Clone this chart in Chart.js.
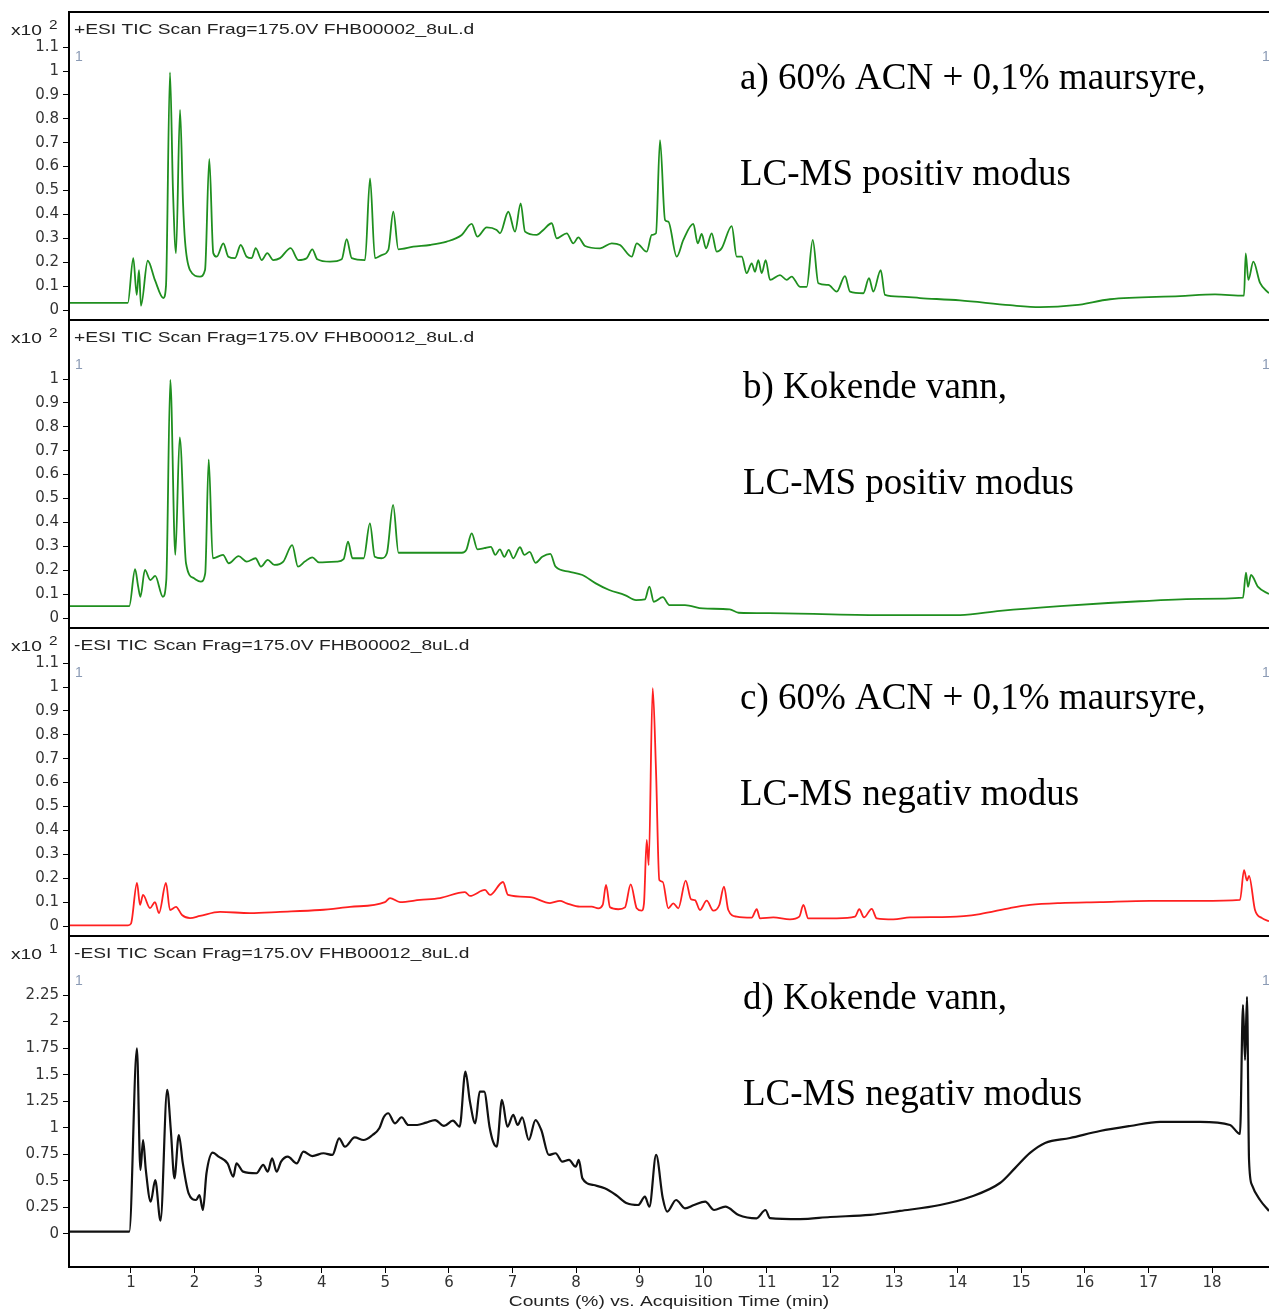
<!DOCTYPE html>
<html>
<head>
<meta charset="utf-8">
<script src="https://cdn.jsdelivr.net/npm/chart.js@4.4.1/dist/chart.umd.min.js"></script>
<style>
  html, body { margin: 0; padding: 0; background: #fff; }
  #wrap { position: relative; width: 1269px; height: 1311px; overflow: hidden; }
  canvas { position: absolute; left: 0; }
</style>
</head>
<body>
<div id="wrap">
  <canvas id="chartA" width="1269" height="320" style="top:0px"></canvas>
  <canvas id="chartB" width="1269" height="308" style="top:320px"></canvas>
  <canvas id="chartC" width="1269" height="308" style="top:628px"></canvas>
  <canvas id="chartD" width="1269" height="375" style="top:936px"></canvas>
</div>
<script>
// acquisition time (min) and counts for each trace
const timesA = [0.03, 0.51, 0.95, 1.036, 1.09, 1.126, 1.157, 1.263, 1.377, 1.508, 1.55, 1.613, 1.66, 1.708, 1.771, 1.818, 1.849, 1.928, 2.085, 2.164, 2.231, 2.294, 2.348, 2.452, 2.53, 2.636, 2.725, 2.819, 2.898, 2.961, 3.055, 3.143, 3.238, 3.343, 3.511, 3.631, 3.763, 3.851, 3.93, 4.13, 4.313, 4.392, 4.471, 4.68, 4.759, 4.837, 4.943, 5.046, 5.125, 5.204, 5.439, 5.702, 5.965, 6.201, 6.358, 6.446, 6.594, 6.751, 6.803, 6.934, 7.039, 7.128, 7.196, 7.38, 7.484, 7.616, 7.695, 7.852, 7.956, 8.034, 8.14, 8.376, 8.56, 8.69, 8.874, 8.953, 9.11, 9.189, 9.256, 9.319, 9.398, 9.45, 9.582, 9.686, 9.843, 9.912, 9.975, 10.042, 10.132, 10.211, 10.289, 10.447, 10.525, 10.604, 10.682, 10.761, 10.813, 10.865, 10.918, 10.981, 11.049, 11.206, 11.312, 11.39, 11.521, 11.626, 11.721, 11.809, 11.966, 12.098, 12.228, 12.307, 12.516, 12.606, 12.673, 12.79, 12.857, 13.093, 13.408, 14.037, 14.823, 15.295, 15.845, 16.396, 17.497, 18.047, 18.503, 18.53, 18.571, 18.65, 18.755, 18.896];
const countsA = [0.03, 0.03, 0.03, 0.217, 0.063, 0.167, 0.018, 0.206, 0.125, 0.05, 0.1, 0.994, 0.5, 0.238, 0.837, 0.45, 0.29, 0.167, 0.14, 0.167, 0.632, 0.238, 0.223, 0.279, 0.223, 0.217, 0.272, 0.223, 0.217, 0.259, 0.209, 0.238, 0.209, 0.217, 0.259, 0.209, 0.217, 0.254, 0.212, 0.202, 0.212, 0.296, 0.217, 0.209, 0.551, 0.217, 0.23, 0.251, 0.411, 0.254, 0.265, 0.272, 0.286, 0.314, 0.36, 0.307, 0.346, 0.335, 0.321, 0.411, 0.328, 0.446, 0.328, 0.314, 0.335, 0.363, 0.3, 0.321, 0.279, 0.304, 0.268, 0.258, 0.279, 0.272, 0.223, 0.279, 0.244, 0.314, 0.321, 0.711, 0.377, 0.37, 0.223, 0.293, 0.36, 0.279, 0.318, 0.258, 0.321, 0.244, 0.258, 0.351, 0.223, 0.223, 0.154, 0.195, 0.16, 0.209, 0.154, 0.209, 0.126, 0.146, 0.126, 0.14, 0.097, 0.097, 0.293, 0.112, 0.105, 0.077, 0.142, 0.077, 0.07, 0.133, 0.077, 0.167, 0.063, 0.056, 0.05, 0.04, 0.02, 0.012, 0.02, 0.045, 0.058, 0.065, 0.06, 0.237, 0.126, 0.202, 0.113, 0.07];

const timesB = [0.03, 0.5, 0.973, 1.064, 1.113, 1.148, 1.219, 1.304, 1.381, 1.5, 1.555, 1.618, 1.697, 1.766, 1.865, 1.991, 2.096, 2.167, 2.222, 2.286, 2.447, 2.538, 2.692, 2.819, 2.959, 3.044, 3.15, 3.255, 3.395, 3.535, 3.626, 3.732, 3.851, 3.956, 4.238, 4.343, 4.413, 4.483, 4.658, 4.757, 4.834, 4.939, 5.024, 5.122, 5.207, 5.501, 5.852, 6.204, 6.273, 6.358, 6.449, 6.554, 6.66, 6.729, 6.8, 6.871, 6.94, 7.011, 7.116, 7.187, 7.27, 7.361, 7.467, 7.594, 7.677, 7.888, 8.099, 8.309, 8.52, 8.766, 8.942, 9.082, 9.152, 9.222, 9.363, 9.467, 9.712, 9.994, 10.415, 10.555, 11.033, 12.779, 14.037, 14.666, 15.61, 16.868, 17.812, 18.487, 18.534, 18.566, 18.613, 18.724, 18.896];
const countsB = [0.05, 0.05, 0.05, 0.204, 0.131, 0.089, 0.201, 0.159, 0.176, 0.089, 0.159, 0.996, 0.264, 0.756, 0.229, 0.166, 0.152, 0.187, 0.664, 0.25, 0.264, 0.229, 0.259, 0.236, 0.25, 0.215, 0.243, 0.222, 0.236, 0.305, 0.215, 0.236, 0.254, 0.233, 0.236, 0.246, 0.319, 0.25, 0.25, 0.396, 0.256, 0.25, 0.271, 0.473, 0.273, 0.273, 0.273, 0.273, 0.285, 0.354, 0.287, 0.292, 0.298, 0.264, 0.287, 0.256, 0.285, 0.25, 0.296, 0.264, 0.277, 0.231, 0.256, 0.268, 0.215, 0.194, 0.18, 0.145, 0.117, 0.096, 0.075, 0.078, 0.131, 0.068, 0.087, 0.054, 0.054, 0.04, 0.036, 0.022, 0.02, 0.012, 0.012, 0.03, 0.05, 0.07, 0.08, 0.085, 0.19, 0.13, 0.18, 0.13, 0.1];

const timesC = [0.03, 0.953, 1.0, 1.094, 1.142, 1.189, 1.299, 1.377, 1.44, 1.55, 1.613, 1.708, 1.802, 1.928, 2.085, 2.4, 2.871, 3.343, 3.972, 4.444, 4.994, 5.073, 5.23, 5.545, 5.859, 6.252, 6.331, 6.567, 6.646, 6.85, 6.929, 7.275, 7.589, 7.746, 7.852, 8.061, 8.245, 8.349, 8.418, 8.47, 8.533, 8.663, 8.769, 8.858, 8.953, 9.031, 9.067, 9.11, 9.141, 9.204, 9.256, 9.308, 9.361, 9.45, 9.528, 9.607, 9.723, 9.806, 9.869, 9.948, 10.053, 10.157, 10.252, 10.325, 10.393, 10.525, 10.761, 10.84, 10.892, 11.101, 11.363, 11.51, 11.573, 11.651, 12.098, 12.386, 12.453, 12.527, 12.648, 12.727, 12.988, 13.251, 13.879, 14.351, 14.823, 15.138, 15.61, 16.238, 17.025, 17.812, 18.44, 18.503, 18.55, 18.582, 18.676, 18.787, 18.896];
const countsC = [0.003, 0.003, 0.01, 0.18, 0.088, 0.13, 0.075, 0.1, 0.054, 0.18, 0.067, 0.08, 0.046, 0.033, 0.042, 0.059, 0.054, 0.059, 0.067, 0.08, 0.1, 0.117, 0.1, 0.109, 0.117, 0.142, 0.126, 0.151, 0.13, 0.184, 0.13, 0.121, 0.096, 0.105, 0.095, 0.081, 0.081, 0.074, 0.088, 0.172, 0.078, 0.07, 0.078, 0.174, 0.074, 0.064, 0.095, 0.36, 0.255, 0.995, 0.653, 0.192, 0.185, 0.074, 0.095, 0.074, 0.19, 0.112, 0.108, 0.067, 0.106, 0.064, 0.088, 0.165, 0.067, 0.039, 0.035, 0.07, 0.032, 0.036, 0.028, 0.039, 0.088, 0.032, 0.032, 0.039, 0.07, 0.036, 0.072, 0.032, 0.028, 0.036, 0.038, 0.05, 0.075, 0.088, 0.096, 0.1, 0.105, 0.105, 0.109, 0.234, 0.19, 0.21, 0.067, 0.033, 0.02];

const timesD = [0.03, 0.5, 0.973, 1.093, 1.148, 1.19, 1.233, 1.31, 1.381, 1.464, 1.569, 1.626, 1.683, 1.752, 1.815, 1.906, 2.025, 2.076, 2.131, 2.187, 2.286, 2.378, 2.518, 2.609, 2.658, 2.763, 2.974, 3.079, 3.15, 3.219, 3.29, 3.36, 3.466, 3.606, 3.711, 3.851, 4.027, 4.167, 4.273, 4.364, 4.518, 4.658, 4.799, 4.905, 4.974, 5.045, 5.15, 5.255, 5.361, 5.501, 5.641, 5.782, 5.922, 6.062, 6.168, 6.259, 6.33, 6.414, 6.484, 6.554, 6.638, 6.694, 6.751, 6.834, 6.919, 7.011, 7.081, 7.151, 7.256, 7.361, 7.452, 7.572, 7.677, 7.783, 7.888, 7.993, 8.042, 8.099, 8.275, 8.449, 8.626, 8.8, 8.976, 9.082, 9.152, 9.258, 9.363, 9.432, 9.572, 9.712, 9.854, 10.03, 10.17, 10.346, 10.555, 10.837, 10.977, 11.049, 11.521, 11.993, 12.622, 13.093, 13.722, 14.194, 14.666, 14.902, 15.138, 15.374, 15.767, 16.238, 16.71, 17.182, 17.812, 18.283, 18.44, 18.487, 18.519, 18.55, 18.582, 18.629, 18.755, 18.896];
const countsD = [0.022, 0.022, 0.022, 1.748, 0.603, 0.885, 0.603, 0.304, 0.508, 0.125, 1.356, 0.979, 0.524, 0.932, 0.665, 0.383, 0.32, 0.367, 0.226, 0.572, 0.766, 0.728, 0.665, 0.54, 0.665, 0.587, 0.572, 0.65, 0.587, 0.713, 0.587, 0.681, 0.728, 0.665, 0.775, 0.734, 0.76, 0.744, 0.901, 0.822, 0.91, 0.885, 0.932, 0.995, 1.099, 1.137, 1.042, 1.099, 1.026, 1.026, 1.048, 1.073, 1.017, 1.067, 1.01, 1.528, 1.246, 1.042, 1.34, 1.34, 1.01, 0.869, 0.822, 1.262, 1.01, 1.121, 1.026, 1.099, 0.885, 1.073, 0.979, 0.744, 0.76, 0.681, 0.697, 0.634, 0.697, 0.524, 0.461, 0.43, 0.367, 0.289, 0.273, 0.351, 0.257, 0.744, 0.336, 0.21, 0.32, 0.242, 0.273, 0.304, 0.226, 0.257, 0.179, 0.148, 0.226, 0.15, 0.14, 0.16, 0.18, 0.217, 0.273, 0.348, 0.48, 0.62, 0.763, 0.857, 0.904, 0.97, 1.017, 1.055, 1.055, 1.026, 0.942, 2.156, 1.638, 2.232, 0.697, 0.461, 0.32, 0.217];

// tick labels
const yTicksA = [0, 0.1, 0.2, 0.3, 0.4, 0.5, 0.6, 0.7, 0.8, 0.9, 1, 1.1];
const yTicksB = [0, 0.1, 0.2, 0.3, 0.4, 0.5, 0.6, 0.7, 0.8, 0.9, 1];
const yTicksC = [0, 0.1, 0.2, 0.3, 0.4, 0.5, 0.6, 0.7, 0.8, 0.9, 1, 1.1];
const yTicksD = [0, 0.25, 0.5, 0.75, 1, 1.25, 1.5, 1.75, 2, 2.25];
const xTicks = [1, 2, 3, 4, 5, 6, 7, 8, 9, 10, 11, 12, 13, 14, 15, 16, 17, 18];

const X_MIN = 0.025, X_MAX = 18.896;
const SANS = "'Liberation Sans', Arial, sans-serif";
const WIDE = "'DejaVu Sans', Verdana, sans-serif";
const SERIF = "'Liberation Serif', 'Times New Roman', serif";
const STRETCH = 1.28; // the instrument's labels are drawn wider than Arial

// write sans text stretched horizontally from x
function wideText(c, text, x, y, align) {
    c.save();
    c.translate(x, y);
    c.scale(STRETCH, 1);
    c.textAlign = align || "left";
    c.fillText(text, 0, 0);
    c.restore();
}

function makePanel(id, p) {
    const ctx = document.getElementById(id).getContext("2d");

    // frame, header, exponent and the free text
    const panelText = {
        id: "panelText",
        afterDraw(chart) {
            const c = chart.ctx;
            const a = chart.chartArea;
            c.save();
            c.strokeStyle = "#000";
            c.lineWidth = 2;
            c.strokeRect(a.left, a.top, a.right - a.left + 2, a.bottom - a.top);

            c.fillStyle = "#222";
            c.font = "15px " + SANS;
            c.textBaseline = "middle";
            wideText(c, p.header, a.left + 5, a.top + 18);
            wideText(c, "x10", 11, a.top + 19);
            c.font = "12px " + SANS;
            wideText(c, p.exponent, 49, a.top + 14);

            if (p.showX) {
                c.font = "15px " + SANS;
                wideText(c, "Counts (%) vs. Acquisition Time (min)", (a.left + a.right) / 2, chart.height - 9, "center");
            }

            c.fillStyle = "#8a9ab4";
            c.font = "14px " + SANS;
            c.fillText("1", a.left + 6, a.top + 45);
            c.fillText("1", 1262, a.top + 45);

            c.fillStyle = "#000";
            c.font = "37px " + SERIF;
            c.textBaseline = "alphabetic";
            c.fillText(p.note1, p.noteX, a.top + p.note1Y);
            c.fillText("LC-MS " + p.mode, p.noteX, a.top + p.note1Y + 96);
            c.restore();
        }
    };

    return new Chart(ctx, {
        type: "line",
        data: {
            datasets: [{
                data: p.times.map((t, i) => ({ x: t, y: p.counts[i] })),
                borderColor: p.color,
                borderWidth: p.width,
                pointRadius: 0,
                cubicInterpolationMode: "monotone",
                borderJoinStyle: "round",
            }],
        },
        options: {
            responsive: false,
            animation: false,
            devicePixelRatio: 1,
            layout: { padding: { top: p.padTop, left: 0, right: 0, bottom: 0 } },
            plugins: { legend: { display: false }, tooltip: { enabled: false } },
            scales: {
                x: {
                    type: "linear",
                    min: X_MIN,
                    max: X_MAX,
                    display: p.showX,
                    afterBuildTicks: s => { s.ticks = xTicks.map(v => ({ value: v })); },
                    afterFit: s => { s.height = p.showX ? 44 : 0; s.paddingLeft = 0; s.paddingRight = 0; },
                    grid: { drawOnChartArea: false, color: "#000", tickLength: 6 },
                    border: { color: "#000", width: 2 },
                    ticks: { color: "#333", font: { family: WIDE, size: 15 }, padding: 1, maxRotation: 0, autoSkip: false },
                },
                y: {
                    min: p.yMin,
                    max: p.yMax,
                    afterBuildTicks: s => { s.ticks = p.yTicks.map(v => ({ value: v })); },
                    afterFit: s => { s.width = 69; s.paddingTop = 0; s.paddingBottom = 0; },
                    grid: { drawOnChartArea: false, color: "#000", tickLength: 6 },
                    border: { color: "#000", width: 2 },
                    ticks: { color: "#333", font: { family: WIDE, size: 15 }, padding: 4, autoSkip: false, callback: v => String(v) },
                },
            },
        },
        plugins: [panelText],
    });
}

const Y_LO = -10 / 239, Y_HI = 1 + 59 / 239;

makePanel("chartA", {
    times: timesA, counts: countsA, color: "#1f8f1f", width: 1.8,
    yTicks: yTicksA, yMin: Y_LO, yMax: Y_HI, padTop: 12, showX: false,
    header: "+ESI TIC Scan Frag=175.0V FHB00002_8uL.d", exponent: "2",
    note1: "a) 60% ACN + 0,1% maursyre,", noteX: 740, note1Y: 77, mode: "positiv modus",
});
makePanel("chartB", {
    times: timesB, counts: countsB, color: "#1f8f1f", width: 1.8,
    yTicks: yTicksB, yMin: Y_LO, yMax: Y_HI, padTop: 0, showX: false,
    header: "+ESI TIC Scan Frag=175.0V FHB00012_8uL.d", exponent: "2",
    note1: "b) Kokende vann,", noteX: 743, note1Y: 78, mode: "positiv modus",
});
makePanel("chartC", {
    times: timesC, counts: countsC, color: "#ff2020", width: 1.8,
    yTicks: yTicksC, yMin: Y_LO, yMax: Y_HI, padTop: 0, showX: false,
    header: "-ESI TIC Scan Frag=175.0V FHB00002_8uL.d", exponent: "2",
    note1: "c) 60% ACN + 0,1% maursyre,", noteX: 740, note1Y: 81, mode: "negativ modus",
});
makePanel("chartD", {
    times: timesD, counts: countsD, color: "#111", width: 2.2,
    yTicks: yTicksD, yMin: -33 / 106.2, yMax: 2.25 + 59 / 106.2, padTop: 0, showX: true,
    header: "-ESI TIC Scan Frag=175.0V FHB00012_8uL.d", exponent: "1",
    note1: "d) Kokende vann,", noteX: 743, note1Y: 73, mode: "negativ modus",
});
</script>
</body>
</html>
